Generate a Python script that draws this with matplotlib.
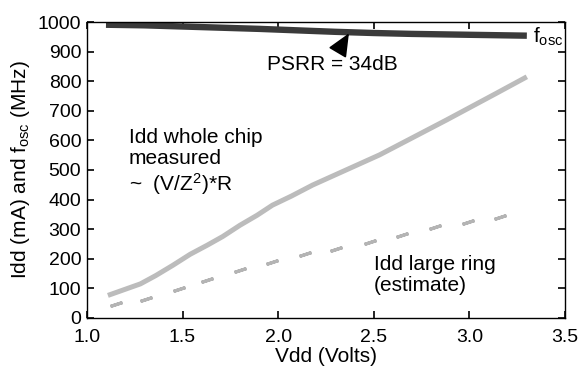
import numpy as np
import matplotlib
matplotlib.use('Agg')
import matplotlib.pyplot as plt

plt.rcParams['font.family'] = ['Liberation Sans', 'DejaVu Sans']
plt.rcParams['mathtext.fontset'] = 'custom'
plt.rcParams['mathtext.rm'] = 'Liberation Sans'
plt.rcParams['mathtext.it'] = 'Liberation Sans'

# oscillator frequency (MHz)
fosc_v = [1.1, 1.3, 1.5, 1.7, 1.9, 2.1, 2.3, 2.5, 2.7, 2.9, 3.1, 3.3]
fosc_f = [991, 989, 985, 981, 977, 972, 967, 963, 960, 958, 956, 954]

# Idd whole chip measured (mA)
chip_v = [1.11, 1.28, 1.36, 1.45, 1.54, 1.63, 1.71, 1.80, 1.89, 1.97,
          2.07, 2.18, 2.53, 2.88, 3.14, 3.30]
chip_i = [76, 115, 143, 178, 215, 246, 275, 313, 347, 381,
          412, 449, 551, 669, 759, 815]

# Idd large ring estimate (mA)
ring_v = [1.15, 1.31, 1.48, 1.63, 1.80, 1.97, 2.14, 2.30, 2.48, 2.65,
          2.82, 2.99, 3.16]
ring_i = [47, 63, 97, 128, 162, 190, 215, 233, 258, 280, 306, 325, 342]

fig = plt.figure(figsize=(5.79, 3.74), dpi=100)
ax = fig.add_axes([0.150, 0.150, 0.826, 0.791])

ax.plot(fosc_v, fosc_f, color='#3a3a3a', lw=4.6, solid_capstyle='butt')
ax.plot(chip_v, chip_i, color='#bcbcbc', lw=3.6, solid_capstyle='butt')
ax.plot(ring_v, ring_i, ls='none', marker=(2, 2, -72), ms=9, mew=2.3,
        color='#b4b4b4')

ax.set_xlim(1.0, 3.5)
ax.set_ylim(0, 1000)
ax.set_xticks(np.arange(1.0, 3.51, 0.5))
ax.set_xticklabels(['1.0', '1.5', '2.0', '2.5', '3.0', '3.5'])
ax.set_yticks(np.arange(0, 1001, 100))
ax.tick_params(direction='in', length=5, width=1.2, top=True, right=True,
               labelsize=14, pad=4)
ax.tick_params(axis='x', pad=8)
for s in ax.spines.values():
    s.set_linewidth(1.0)

ax.set_xlabel('Vdd (Volts)', fontsize=15, labelpad=1)
ax.set_ylabel(r'Idd (mA) and f$_{\rm osc}$ (MHz)', fontsize=15, labelpad=4)

ax.annotate('PSRR = 34dB', xy=(2.37, 962), xytext=(1.94, 858),
            fontsize=15, ha='left', va='center',
            arrowprops=dict(arrowstyle='-|>,head_length=0.95,head_width=0.42',
                            color='black', lw=1.2,
                            shrinkA=1, shrinkB=0,
                            relpos=(0.52, 0.85)))
ax.text(3.33, 950, r'f$_{\rm osc}$', fontsize=15, ha='left', va='center')
ax.text(1.22, 642, 'Idd whole chip\nmeasured\n~  (V/Z$^2$)*R', fontsize=15,
        ha='left', va='top', linespacing=1.15)
ax.text(2.50, 212, 'Idd large ring\n(estimate)', fontsize=15,
        ha='left', va='top', linespacing=1.15)

fig.savefig('out.png', dpi=100)
